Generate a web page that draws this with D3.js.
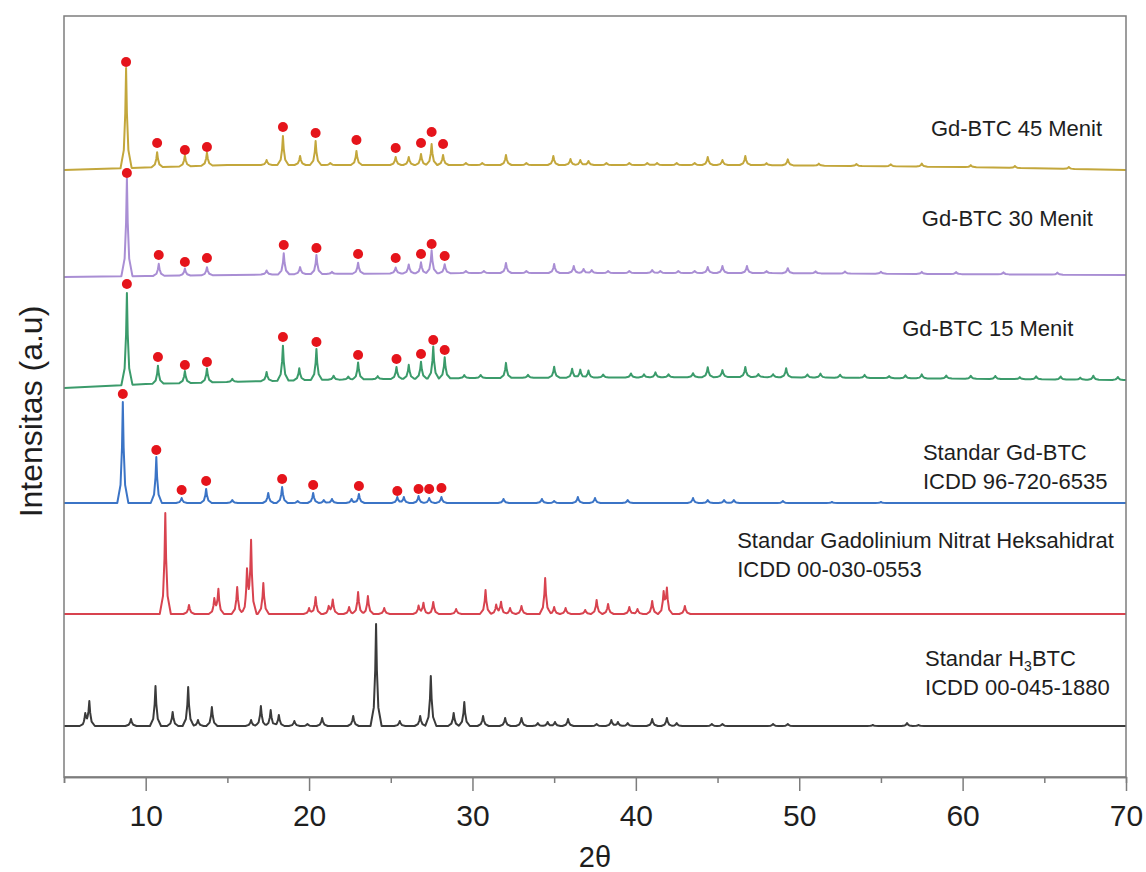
<!DOCTYPE html>
<html><head><meta charset="utf-8">
<script src="https://cdn.jsdelivr.net/npm/d3@7"></script>
<style>
body{margin:0;background:#fff}
svg{display:block}
text{font-family:"Liberation Sans",Arial,sans-serif;fill:#1e1e1e}
</style>
</head><body>
<svg id="chart" width="1146" height="872"></svg>
<script>
// ---------------- DATA ----------------
const xTicks = [10, 20, 30, 40, 50, 60, 70];
const xMinorTicks = [5, 15, 25, 35, 45, 55, 65];
const xTitle = "2θ";
const yTitle = "Intensitas (a.u)";

// Baselines of each trace: [2θ, intensity a.u.]
const base45 = [[5, 607], [9, 609], [15, 612], [30, 612], [47, 612], [60, 610], [70, 607]];
const base30 = [[5, 500], [10, 501], [20, 503], [30, 504], [47, 504], [70, 502]];
const base15 = [[5, 389], [10, 393], [20, 397], [30, 399], [47, 400], [70, 397]];
const baseStdBTC = [[5, 274], [70, 274]];
const baseNitrat = [[5, 163], [70, 163]];
const baseH3BTC = [[5, 51], [70, 51]];

// Peaks: [2θ, height above baseline, a.u.]
const peaks45 = [[8.8, 100], [10.7, 15], [12.4, 11], [13.75, 13], [17.4, 5], [18.4, 29], [19.45, 9], [20.4, 24], [21.3, 2],
  [22.9, 14], [25.3, 8], [26.1, 8], [26.85, 11], [27.5, 21], [28.2, 10], [29.6, 2], [30.6, 2], [32.05, 10], [33.3, 2],
  [34.95, 9], [36.0, 6], [36.6, 5], [37.1, 4], [38.2, 2], [39.6, 2], [40.7, 2], [41.3, 2], [42.5, 2], [43.6, 2],
  [44.4, 8], [45.3, 5], [46.7, 9], [48.0, 2], [49.3, 6], [51.2, 2], [53.5, 2], [55.6, 2], [57.5, 3], [60.5, 2], [63.2, 2], [66.5, 2]];
const peaks30 = [[8.85, 98], [10.8, 12], [12.4, 7], [13.75, 8], [17.4, 4], [18.45, 21], [19.45, 7], [20.45, 19], [21.4, 2],
  [23.0, 11], [25.3, 6], [26.1, 9], [26.85, 11], [27.5, 23], [28.3, 9], [29.6, 2], [30.7, 2], [32.05, 10], [33.3, 2],
  [35.0, 9], [36.2, 7], [36.8, 4], [37.3, 3], [38.3, 2], [39.6, 2], [41.0, 3], [41.5, 2], [42.6, 2], [43.6, 2],
  [44.4, 6], [45.3, 7], [46.8, 7], [48.0, 2], [49.3, 5], [51.0, 2], [52.8, 2], [55.0, 2], [57.5, 2], [59.6, 2], [62.5, 2], [65.8, 2]];
const peaks15 = [[8.85, 92], [10.75, 18], [12.4, 12], [13.75, 14], [15.3, 3], [17.4, 9], [18.4, 35], [19.4, 12], [20.45, 31],
  [21.5, 4], [22.4, 3], [23.0, 17], [24.2, 3], [25.35, 12], [26.1, 14], [26.85, 17], [27.6, 32], [28.3, 21], [29.5, 3],
  [30.5, 3], [32.05, 15], [33.4, 3], [35.0, 11], [36.1, 9], [36.6, 8], [37.1, 7], [38.0, 3], [39.7, 4], [40.5, 3],
  [41.2, 5], [42.0, 3], [43.5, 4], [44.4, 10], [45.3, 7], [46.7, 10], [47.5, 3], [48.4, 3], [49.2, 9], [50.5, 3],
  [51.3, 4], [52.5, 3], [54.0, 3], [55.5, 2], [56.5, 3], [57.5, 4], [59.0, 3], [60.5, 3], [62.0, 3], [63.5, 2],
  [64.5, 3], [66.0, 3], [67.2, 2], [68.0, 4], [69.5, 3]];
const peaksStdBTC = [[8.6, 101], [10.65, 46], [12.2, 5], [13.7, 14], [15.3, 3], [17.5, 10], [18.35, 16], [19.3, 2],
  [20.25, 10], [20.9, 3], [21.4, 4], [22.6, 4], [23.05, 9], [25.4, 6], [25.8, 6], [26.7, 7], [27.35, 5], [28.1, 6],
  [31.9, 4], [34.25, 4], [35.0, 2], [36.45, 6], [37.5, 5], [39.5, 3], [43.5, 5], [44.4, 3], [45.4, 3], [46.0, 3],
  [49.0, 2], [52.0, 1], [55.0, 1]];
const peaksNitrat = [[11.2, 101], [12.65, 9], [14.2, 14], [14.45, 24], [15.6, 27], [16.2, 40], [16.45, 71], [17.2, 31],
  [20.0, 6], [20.4, 17], [21.2, 7], [21.45, 14], [22.45, 7], [23.0, 22], [23.6, 18], [24.6, 6], [26.7, 8], [27.0, 11],
  [27.6, 12], [29.0, 5], [30.8, 24], [31.45, 9], [31.75, 12], [32.3, 6], [33.0, 8], [34.45, 36], [35.0, 7], [35.7, 6],
  [36.9, 4], [37.6, 14], [38.3, 10], [39.6, 7], [40.1, 5], [41.0, 13], [41.7, 20], [41.9, 24], [43.0, 8]];
const peaksH3BTC = [[6.3, 11], [6.55, 24], [9.1, 7], [10.6, 40], [11.65, 14], [12.6, 39], [13.2, 6], [14.05, 19],
  [16.45, 6], [17.05, 20], [17.65, 16], [18.15, 11], [19.1, 5], [19.9, 2], [20.8, 8], [22.7, 10], [24.1, 102],
  [25.55, 5], [26.8, 10], [27.45, 50], [28.85, 13], [29.5, 24], [30.65, 10], [32.0, 8], [33.0, 8], [34.0, 3],
  [34.6, 4], [35.05, 4], [35.85, 7], [37.6, 2], [38.5, 6], [38.9, 4], [39.5, 3], [41.0, 7], [41.9, 8], [42.5, 3],
  [44.65, 2], [45.3, 2], [48.4, 2], [49.3, 2], [54.5, 1], [56.6, 3], [57.3, 1]];

// Red markers (Gd-BTC reflections): [2θ, intensity a.u.]
const dots45 = [[8.8, 715], [10.7, 634], [12.4, 627], [13.75, 630], [18.4, 650], [20.4, 644], [22.9, 637], [25.3, 629], [26.85, 634], [27.5, 645], [28.2, 633]];
const dots30 = [[8.85, 604], [10.8, 522], [12.4, 515], [13.75, 519], [18.45, 532], [20.45, 529], [23.0, 523], [25.3, 519], [26.85, 523], [27.5, 533], [28.3, 521]];
const dots15 = [[8.85, 493], [10.75, 420], [12.4, 412], [13.75, 415], [18.4, 440], [20.45, 435], [23.0, 422], [25.35, 418], [26.85, 423], [27.6, 437], [28.3, 427]];
const dotsStdBTC = [[8.6, 383], [10.65, 327], [12.2, 287], [13.7, 296], [18.35, 298], [20.25, 292], [23.05, 291], [25.4, 286], [26.7, 288], [27.35, 288], [28.1, 289]];

// Labels
const label45 = ["Gd-BTC 45 Menit"];
const label30 = ["Gd-BTC 30 Menit"];
const label15 = ["Gd-BTC 15 Menit"];
const labelStdBTC = ["Standar Gd-BTC", "ICDD 96-720-6535"];
const labelNitrat = ["Standar Gadolinium Nitrat Heksahidrat", "ICDD 00-030-0553"];
const labelH3BTC = ["Standar H|3|BTC", "ICDD 00-045-1880"];

// ---------------- DRAWING ----------------
const W = 1146, H = 872;
const m = {left: 64, right: 20, top: 16, bottom: 95};
const svg = d3.select("#chart");
const x = d3.scaleLinear().domain([5, 70]).range([m.left, W - m.right]);
const y = d3.scaleLinear().domain([0, 761]).range([H - m.bottom, m.top]);

// peak line shape (style): offsets in degrees and relative heights
const shapeOff = [-0.34, -0.14, -0.05, 0, 0.05, 0.14, 0.34];
const shapeFrac = [0, 0.18, 0.55, 1, 0.55, 0.18, 0];

function baseAt(base, t) {
  for (let i = 0; i < base.length - 1; i++) {
    const [a, va] = base[i], [b, vb] = base[i + 1];
    if (t >= a && t <= b) return va + (vb - va) * (t - a) / (b - a);
  }
  return base[base.length - 1][1];
}
function shapeAt(d) {
  if (d <= shapeOff[0] || d >= shapeOff[shapeOff.length - 1]) return 0;
  for (let i = 0; i < shapeOff.length - 1; i++) {
    if (d >= shapeOff[i] && d <= shapeOff[i + 1])
      return shapeFrac[i] + (shapeFrac[i + 1] - shapeFrac[i]) * (d - shapeOff[i]) / (shapeOff[i + 1] - shapeOff[i]);
  }
  return 0;
}
function trace(base, peaks) {
  let xs = base.map(d => d[0]);
  peaks.forEach(([p]) => shapeOff.forEach(o => xs.push(p + o)));
  xs = Array.from(new Set(xs.map(v => +v.toFixed(4)))).filter(v => v >= 5 && v <= 70).sort((a, b) => a - b);
  return xs.map(t => [t, baseAt(base, t) + d3.sum(peaks, ([p, h]) => h * shapeAt(t - p))]);
}

svg.append("defs").append("clipPath").attr("id", "clip")
  .append("rect").attr("x", m.left).attr("y", m.top)
  .attr("width", W - m.left - m.right).attr("height", H - m.top - m.bottom);

const series = [
  {base: baseH3BTC, peaks: peaksH3BTC, color: "#3b3b3b", dots: [], label: labelH3BTC, lx: 57.7, ly: 111},
  {base: baseNitrat, peaks: peaksNitrat, color: "#d8434f", dots: [], label: labelNitrat, lx: 46.2, ly: 229},
  {base: baseStdBTC, peaks: peaksStdBTC, color: "#3b74c6", dots: dotsStdBTC, label: labelStdBTC, lx: 57.57, ly: 317},
  {base: base15, peaks: peaks15, color: "#3b9b6b", dots: dots15, label: label15, lx: 56.3, ly: 441},
  {base: base30, peaks: peaks30, color: "#a98ed4", dots: dots30, label: label30, lx: 57.5, ly: 551},
  {base: base45, peaks: peaks45, color: "#c3a73c", dots: dots45, label: label45, lx: 58.06, ly: 641}
];

const line = d3.line().x(d => x(d[0])).y(d => y(d[1]));
const g = svg.append("g").attr("clip-path", "url(#clip)");
series.forEach(s => {
  g.append("path").datum(trace(s.base, s.peaks))
    .attr("fill", "none").attr("stroke", s.color).attr("stroke-width", 2)
    .attr("stroke-linejoin", "round").attr("d", line);
  g.selectAll(null).data(s.dots).enter().append("circle")
    .attr("cx", d => x(d[0])).attr("cy", d => y(d[1])).attr("r", 5)
    .attr("fill", "#e5141b");
});

// labels
series.forEach(s => {
  s.label.forEach((txt, i) => {
    const t = svg.append("text").attr("x", x(s.lx)).attr("y", y(s.ly) + i * 29)
      .attr("font-size", 22);
    const parts = txt.split("|");
    if (parts.length === 3) {
      t.append("tspan").text(parts[0]);
      t.append("tspan").text(parts[1]).attr("font-size", 14).attr("dy", 5);
      t.append("tspan").text(parts[2]).attr("dy", -5);
    } else t.text(txt);
  });
});

// frame
svg.append("rect").attr("x", m.left).attr("y", m.top)
  .attr("width", W - m.left - m.right).attr("height", H - m.top - m.bottom)
  .attr("fill", "none").attr("stroke", "#7d7d7d").attr("stroke-width", 1.5);

// x axis
const ax = svg.append("g").attr("transform", `translate(0,${H - m.bottom})`);
ax.call(d3.axisBottom(x).tickValues(xTicks).tickSize(14).tickSizeOuter(0).tickPadding(14).tickFormat(d3.format("d")));
ax.append("g").call(d3.axisBottom(x).tickValues(xMinorTicks).tickSize(6).tickFormat(""));
ax.selectAll(".domain").attr("stroke", "#7d7d7d").attr("stroke-width", 1.5);
ax.selectAll(".tick line").attr("stroke", "#7d7d7d").attr("stroke-width", 1.5);
ax.selectAll(".tick text").attr("font-size", 30).attr("fill", "#1e1e1e")
  .attr("font-family", '"Liberation Sans",Arial,sans-serif');

svg.append("text").attr("x", x(37.5)).attr("y", H - 5).attr("text-anchor", "middle")
  .attr("font-size", 29).text(xTitle);
svg.append("text").attr("transform", `translate(42,${(m.top + H - m.bottom) / 2 + 15}) rotate(-90)`)
  .attr("text-anchor", "middle").attr("font-size", 32).text(yTitle);
</script>
</body></html>
